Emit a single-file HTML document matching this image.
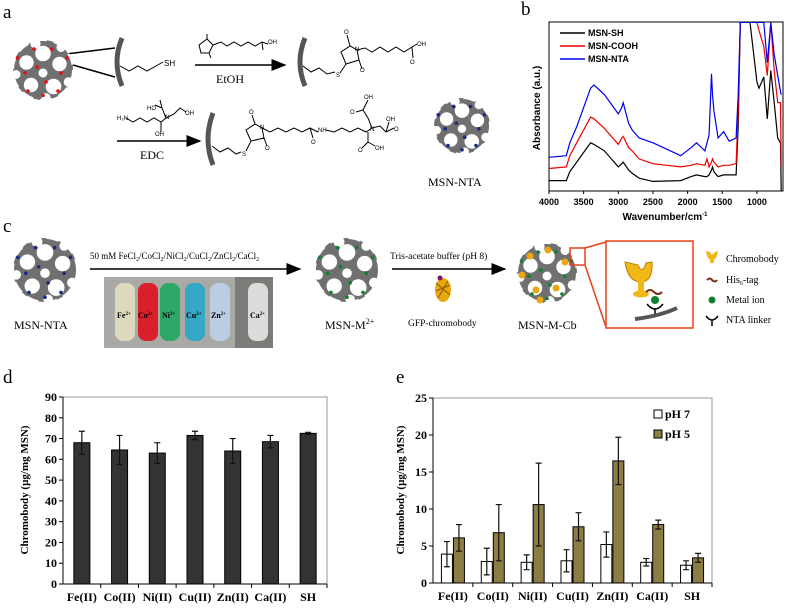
<!DOCTYPE html>
<html><head><meta charset="utf-8"><style>
html,body{margin:0;padding:0;background:#fff;}
svg{display:block;font-family:"Liberation Serif",serif;}
.ar{font-family:"Liberation Sans",sans-serif;}
.ch{font-family:"Liberation Sans",sans-serif;font-size:6px;}
</style></head><body>
<svg id="fig" width="787" height="608" viewBox="0 0 787 608">
<defs>
<marker id="ah" markerWidth="10" markerHeight="8" refX="9" refY="4" orient="auto"><path d="M0,0 L10,4 L0,8 z" fill="#000"/></marker>
<clipPath id="clipb"><rect x="549" y="22" width="234" height="169"/></clipPath>
</defs>
<text x="3" y="18" font-size="19">a</text>
<text x="521" y="15" font-size="19">b</text>
<text x="3" y="232" font-size="19">c</text>
<text x="3" y="383" font-size="19">d</text>
<text x="396" y="383" font-size="19">e</text>

<g id="schemeA" fill="none" stroke="#000" stroke-width="1">
<g><rect x="54" y="54" width="12" height="9" stroke-width="1.5"/><line x1="66" y1="54" x2="115" y2="48" stroke-width="1.5"/><line x1="66" y1="63" x2="115" y2="77" stroke-width="1.5"/></g>
<path d="M122,38 Q112,62 122,86" stroke="#555" stroke-width="5"/>
<path d="M120,66 L129,71 138,66 147,71 156,66 163,62"/>
<text x="164" y="66" class="ar" font-size="8" fill="#000" stroke="none">SH</text>
<line x1="195" y1="65" x2="285" y2="65" stroke-width="1.5" marker-end="url(#ah)"/>
<text x="216" y="83" font-size="12" fill="#000" stroke="none">EtOH</text>
<g>
<path d="M207,39 L213,45 209,53 201,53 199,45 z M207,39 L207,34 M209,53 L211,58 M213,45 L221,42 227,46 234,42 241,46 248,42 255,46 262,42 268,44 M262,42 L263,50"/>
<text x="268" y="44" class="ch" fill="#000" stroke="none">OH</text>
</g>
<path d="M305,38 Q295,62 305,86" stroke="#555" stroke-width="5"/>
<g>
<path d="M303,66 L311,72 319,68 327,74 335,72 M340,73 L346,64 L341,52 L350,46 L357,50 L359,60 L346,64 M350,46 L347,35 M359,60 L362,69 M357,50 L365,48 372,52 380,47 388,52 396,47 404,52 412,47 417,44 M412,47 L413,58"/>
<text x="336" y="77" class="ch" fill="#000" stroke="none">S</text>
<text x="344" y="34" class="ch" fill="#000" stroke="none">O</text>
<text x="360" y="72" class="ch" fill="#000" stroke="none">O</text>
<text x="355" y="51" class="ch" fill="#000" stroke="none">N</text>
<text x="417" y="46" class="ch" fill="#000" stroke="none">OH</text>
<text x="410" y="64" class="ch" fill="#000" stroke="none">O</text>
</g>
<line x1="117" y1="141" x2="200" y2="141" stroke-width="1.5" marker-end="url(#ah)"/>
<text x="140" y="159" font-size="12" fill="#000" stroke="none">EDC</text>
<g>
<path d="M126,118 L133,122 140,118 147,122 154,118 161,122 166,118 M166,118 L162,108 160,100 M166,118 L174,114 180,108 186,112 M162,108 L155,105 M161,122 L161,132"/>
<text x="117" y="120" class="ch" fill="#000" stroke="none">H₂N</text>
<text x="165" y="119" class="ch" fill="#000" stroke="none">N</text>
<text x="147" y="110" class="ch" fill="#000" stroke="none">HO</text>
<text x="185" y="115" class="ch" fill="#000" stroke="none">OH</text>
<text x="155" y="136" class="ch" fill="#000" stroke="none">OH</text>
</g>
<path d="M213,113 Q203,139 213,165" stroke="#555" stroke-width="5"/>
<g>
<path d="M212,146 L220,152 228,148 236,154 241,152 M246,151 L251,141 246,130 255,124 262,128 264,138 251,141 M255,124 L252,115 M264,138 L267,146 M262,128 L270,132 278,128 286,132 294,128 302,132 310,128 313,138 M310,128 L318,132 M326,130 L334,132 342,128 350,132 358,128 366,132 372,128 M372,128 L368,118 363,110 368,100 M363,110 L356,112 M372,128 L380,126 386,132 394,128 M386,132 L389,122 M368,132 L368,142 362,148 M368,142 L375,146"/>
<text x="242" y="156" class="ch" fill="#000" stroke="none">S</text>
<text x="249" y="114" class="ch" fill="#000" stroke="none">O</text>
<text x="265" y="150" class="ch" fill="#000" stroke="none">O</text>
<text x="260" y="129" class="ch" fill="#000" stroke="none">N</text>
<text x="311" y="144" class="ch" fill="#000" stroke="none">O</text>
<text x="318" y="132" class="ch" fill="#000" stroke="none">NH</text>
<text x="370" y="131" class="ch" fill="#000" stroke="none">N</text>
<text x="364" y="99" class="ch" fill="#000" stroke="none">OH</text>
<text x="350" y="114" class="ch" fill="#000" stroke="none">O</text>
<text x="386" y="121" class="ch" fill="#000" stroke="none">OH</text>
<text x="394" y="131" class="ch" fill="#000" stroke="none">O</text>
<text x="358" y="152" class="ch" fill="#000" stroke="none">O</text>
<text x="375" y="150" class="ch" fill="#000" stroke="none">OH</text>
</g>
<text x="428" y="186" font-size="12" fill="#000" stroke="none">MSN-NTA</text>
</g>

<g id="particles"></g>

<g>
<line x1="90" y1="269" x2="300" y2="269" stroke="#000" stroke-width="1.5" marker-end="url(#ah)"/>
<text x="90" y="259" font-size="9">50 mM FeCl<tspan font-size="6" dy="2">2</tspan><tspan dy="-2">/CoCl</tspan><tspan font-size="6" dy="2">2</tspan><tspan dy="-2">/NiCl</tspan><tspan font-size="6" dy="2">2</tspan><tspan dy="-2">/CuCl</tspan><tspan font-size="6" dy="2">2</tspan><tspan dy="-2">/ZnCl</tspan><tspan font-size="6" dy="2">2</tspan><tspan dy="-2">/CaCl</tspan><tspan font-size="6" dy="2">2</tspan></text>
<g>
<rect x="104" y="277" width="169" height="71" fill="#a9aaa5"/>
<rect x="235" y="277" width="38" height="71" fill="#7b7c78"/>
<rect x="115" y="283" width="20" height="58" rx="8" fill="#dcd9bd"/>
<rect x="138" y="283" width="20" height="58" rx="8" fill="#d81f2b"/>
<rect x="160" y="283" width="20" height="58" rx="8" fill="#2ea866"/>
<rect x="185" y="283" width="20" height="58" rx="8" fill="#35a9c4"/>
<rect x="210" y="283" width="20" height="58" rx="8" fill="#bccce2"/>
<rect x="248" y="283" width="20" height="58" rx="8" fill="#dcdcdc"/>
<text x="117" y="318" font-size="8" font-weight="bold">Fe<tspan font-size="5" dy="-3">2+</tspan></text>
<text x="138" y="318" font-size="8" font-weight="bold">Co<tspan font-size="5" dy="-3">2+</tspan></text>
<text x="162" y="318" font-size="8" font-weight="bold">Ni<tspan font-size="5" dy="-3">2+</tspan></text>
<text x="186" y="318" font-size="8" font-weight="bold">Cu<tspan font-size="5" dy="-3">2+</tspan></text>
<text x="211" y="318" font-size="8" font-weight="bold">Zn<tspan font-size="5" dy="-3">2+</tspan></text>
<text x="250" y="318" font-size="8" font-weight="bold">Ca<tspan font-size="5" dy="-3">2+</tspan></text>
</g>
<text x="14" y="329" font-size="12">MSN-NTA</text>
<text x="325" y="329" font-size="12">MSN-M<tspan font-size="8" dy="-5">2+</tspan></text>
<line x1="392" y1="269" x2="505" y2="269" stroke="#000" stroke-width="1.5" marker-end="url(#ah)"/>
<text x="390" y="259" font-size="9.5">Tris-acetate buffer (pH 8)</text>
<g><ellipse cx="443" cy="290" rx="8" ry="12" fill="#e8a810"/><path d="M436,283 L450,295 M436,291 L450,285 M438,298 L448,281" stroke="#8a5a00" stroke-width="1"/><circle cx="440" cy="278" r="2.5" fill="#801070"/></g>
<text x="408" y="326" font-size="9.5">GFP-chromobody</text>
<text x="518" y="329" font-size="12">MSN-M-Cb</text>
<rect x="570" y="248" width="15" height="17" fill="none" stroke="#e8401a" stroke-width="1.5"/>
<line x1="585" y1="248" x2="606" y2="242" stroke="#e8401a" stroke-width="1.5"/><line x1="585" y1="265" x2="606" y2="327" stroke="#e8401a" stroke-width="1.5"/>
<rect x="606" y="241" width="87" height="87" fill="#fff" stroke="#e8401a" stroke-width="1.5"/>
<g>
<path d="M625,262 Q628,282 641,282 Q653,282 652,262 L646,263 Q642,275 638,265 z" fill="#f0b818" stroke="#c08000"/>
<rect x="638" y="281" width="6" height="13" fill="#f0b818"/><ellipse cx="641" cy="294" rx="8" ry="3.5" fill="#f0b818"/>
<path d="M646,292 q4,-4 8,0 q4,4 8,0" fill="none" stroke="#7a3010" stroke-width="2"/>
<circle cx="655" cy="300" r="4" fill="#108030"/>
<path d="M647,304 q8,10 16,0 M655,309 v8" fill="none" stroke="#000" stroke-width="1.5"/>
<path d="M635,319 Q660,316 677,308" fill="none" stroke="#555" stroke-width="4"/>
</g>
<g>
<path d="M706,251 q1,9 6,9 q5,0 6,-9 l-3,1 q-3,5 -5,0 z" fill="#f0b818"/><rect x="710" y="259" width="4" height="4" fill="#f0b818"/>
<text x="726" y="262" font-size="10">Chromobody</text>
<path d="M707,280 q3,-3 5,0 q3,3 5,0" fill="none" stroke="#7a3010" stroke-width="2"/>
<text x="726" y="283" font-size="10">His<tspan font-size="6" dy="2">6</tspan><tspan dy="-2">-tag</tspan></text>
<circle cx="712" cy="300" r="3.5" fill="#108030"/>
<text x="726" y="303" font-size="10">Metal ion</text>
<path d="M706,316 q6,8 12,0 M712,320 v6" fill="none" stroke="#000" stroke-width="1.5"/>
<text x="726" y="323" font-size="10">NTA linker</text>
</g>
</g>

<g id="panelB">
<rect x="549" y="22" width="234" height="169" fill="none" stroke="#000" stroke-width="1"/>
<g id="bLines" clip-path="url(#clipb)"></g>
<g id="bTicks"></g>
<text class="ar" font-weight="bold" font-size="10" x="0" y="0" transform="translate(540,108) rotate(-90)" text-anchor="middle">Absorbance (a.u.)</text>
<text class="ar" font-weight="bold" font-size="10" x="665" y="220" text-anchor="middle">Wavenumber/cm<tspan font-size="6" dy="-4">-1</tspan></text>
<g>
<line x1="560" y1="33" x2="585" y2="33" stroke="#000" stroke-width="1.5"/><text class="ar" font-weight="bold" font-size="9" x="588" y="36">MSN-SH</text>
<line x1="560" y1="46" x2="585" y2="46" stroke="#e00" stroke-width="1.5"/><text class="ar" font-weight="bold" font-size="9" x="588" y="49">MSN-COOH</text>
<line x1="560" y1="59" x2="585" y2="59" stroke="#00e" stroke-width="1.5"/><text class="ar" font-weight="bold" font-size="9" x="588" y="62">MSN-NTA</text>
</g>
</g>

<g id="panelD"></g>
<text font-weight="bold" font-size="11" transform="translate(28,490) rotate(-90)" text-anchor="middle">Chromobody (µg/mg MSN)</text>
<g id="panelE"></g>
<text font-weight="bold" font-size="11" transform="translate(404,490) rotate(-90)" text-anchor="middle">Chromobody (µg/mg MSN)</text>
</svg>
<script>
const irWavenumbers = [4000,3750,3700,3600,3400,3350,3200,3000,2950,2930,2850,2800,2700,2500,2100,1950,1870,1750,1720,1690,1655,1640,1620,1560,1480,1400,1300,1270,1240,1100,1000,970,900,850,800,750,700,660,650];
const irSH   = [0.065,0.065,0.12,0.18,0.30,0.29,0.25,0.15,0.17,0.18,0.13,0.11,0.08,0.06,0.065,0.09,0.10,0.09,0.09,0.10,0.13,0.15,0.12,0.09,0.10,0.10,0.10,0.40,1.05,1.05,0.68,0.64,0.71,0.45,0.75,0.55,0.33,0.30,0.0];
const irCOOH = [0.14,0.15,0.22,0.30,0.46,0.45,0.39,0.29,0.33,0.34,0.27,0.25,0.20,0.17,0.15,0.16,0.17,0.16,0.20,0.15,0.18,0.20,0.18,0.15,0.16,0.16,0.17,0.50,1.05,1.05,1.05,1.0,0.9,0.72,1.05,0.75,0.55,0.55,0.15];
const irNTA  = [0.21,0.22,0.30,0.40,0.64,0.66,0.60,0.48,0.52,0.55,0.42,0.38,0.33,0.30,0.22,0.27,0.30,0.25,0.30,0.35,0.73,0.60,0.50,0.33,0.37,0.31,0.33,0.60,1.05,1.05,1.05,1.05,1.05,0.80,1.05,0.85,0.72,0.62,0.60];
const irTicks = [4000,3500,3000,2500,2000,1500,1000];
const dCategories = ["Fe(II)","Co(II)","Ni(II)","Cu(II)","Zn(II)","Ca(II)","SH"];
const dValues = [68,64.5,63,71.5,64,68.5,72.5];
const dErrors = [5.5,7,5,2,6,3,0.5];
const dTicks = [0,10,20,30,40,50,60,70,80,90];
const eCategories = ["Fe(II)","Co(II)","Ni(II)","Cu(II)","Zn(II)","Ca(II)","SH"];
const ePH7 = [3.9,2.9,2.8,3.0,5.2,2.8,2.4];
const ePH7Err = [1.7,1.8,1.0,1.5,1.7,0.5,0.6];
const ePH5 = [6.1,6.8,10.6,7.6,16.5,7.9,3.4];
const ePH5Err = [1.8,3.8,5.6,1.9,3.2,0.6,0.6];
const eTicks = [0,5,10,15,20,25];

const NS="http://www.w3.org/2000/svg";
function mk(tag,attrs,parent,text){const e=document.createElementNS(NS,tag);for(const k in attrs)e.setAttribute(k,attrs[k]);if(text!==undefined)e.textContent=text;parent.appendChild(e);return e;}

const pg=document.getElementById('particles');
function particle(cx,cy,r,dot,name){
  const g=mk('g',{},pg);
  
  
  mk('circle',{cx:cx,cy:cy,r:r,fill:'#707070'},g);
  const holes=[[0.0,-0.55,0.26],[0.55,-0.2,0.24],[0.35,0.55,0.26],[-0.4,0.5,0.24],[-0.55,-0.25,0.24],[0.0,0.1,0.15],[-0.25,-0.88,0.17],[0.85,0.4,0.16],[-0.9,0.15,0.15],[0.1,0.92,0.15],[0.6,-0.75,0.15]];
  holes.forEach(h=>mk('circle',{cx:cx+h[0]*r,cy:cy+h[1]*r,r:h[2]*r,fill:'#fff'},g));
  mk('circle',{cx:cx,cy:cy,r:r,fill:'none',stroke:'#fff','stroke-width':2,'stroke-dasharray':'12 7'},g);
  const dots=[[-0.3,-0.7],[0.3,-0.7],[0.6,0.1],[-0.6,0.1],[0.1,0.4],[-0.2,-0.1],[0.5,0.7],[-0.5,0.7],[0.8,-0.4],[-0.85,-0.4],[0,0.85]];
  if(dot)dots.forEach(d=>mk('circle',{cx:cx+d[0]*r,cy:cy+d[1]*r,r:1.8,fill:dot},g));
}
particle(43,70,30,'#e01010','msn-sh-particle');
particle(462,126,28,'#1a2a80','msn-nta-particle-a');
particle(45,270,32,'#1a2a80','msn-nta-particle-c');
particle(347,270,32,'#108030','msn-m-particle');
particle(547,273,30,'#108030','msn-m-cb-particle');
[[530,256],[548,250],[565,262],[536,290],[522,275],[556,288],[540,300]].forEach(p=>{const c=mk('circle',{cx:p[0],cy:p[1],r:3.5,fill:'#e8a810'},pg);});

const bx=w=>549+(4000-w)*0.0693, by=a=>191-a*169*0.95;
const bL=document.getElementById('bLines'), bT=document.getElementById('bTicks');
[[irSH,'#000','ir-line-msn-sh'],[irCOOH,'#e00','ir-line-msn-cooh'],[irNTA,'#00e','ir-line-msn-nta']].forEach(s=>{
  const d=irWavenumbers.map((w,i)=>(i?'L':'M')+bx(w).toFixed(1)+','+by(s[0][i]).toFixed(1)).join(' ');
  const p=mk('path',{d:d,fill:'none',stroke:s[1],'stroke-width':1.2},bL);
  
  
});
irTicks.forEach(t=>{mk('line',{x1:bx(t),x2:bx(t),y1:191,y2:194,stroke:'#000'},bT);
  const tx=mk('text',{x:bx(t),y:205,'font-size':9,'text-anchor':'middle','class':'ar','font-weight':'bold'},bT,String(t));
  
  });

function barChart(g,opts){
  const {x0,x1,y0,y1,max,ticks,cats,prefix}=opts;
  const ys=v=>y0-(v/max)*(y0-y1);
  const band=(x1-x0)/cats.length;
  mk('rect',{x:x0,y:y1,width:x1-x0,height:y0-y1,fill:'none',stroke:'#999','stroke-width':1},g);
  mk('line',{x1:x0,x2:x0,y1:y1,y2:y0,stroke:'#000'},g);
  mk('line',{x1:x0,x2:x1,y1:y0,y2:y0,stroke:'#000'},g);
  ticks.forEach(t=>{mk('line',{x1:x0-4,x2:x0,y1:ys(t),y2:ys(t),stroke:'#000'},g);
    const tl=mk('text',{x:x0-6,y:ys(t)+4,'font-size':12,'font-weight':'bold','text-anchor':'end'},g,String(t));
    
    });
  cats.forEach((c,i)=>{mk('line',{x1:x0+band*(i+1),x2:x0+band*(i+1),y1:y0,y2:y0+4,stroke:'#000'},g);
    const cl=mk('text',{x:x0+band*(i+0.5),y:y0+17,'font-size':12,'font-weight':'bold','text-anchor':'middle'},g,c);
    
    });
  return {ys,band};
}
function errBar(g,x,ys,v,e){
  mk('path',{d:`M${x},${ys(v-e)}V${ys(v+e)}M${x-3},${ys(v-e)}h6M${x-3},${ys(v+e)}h6`,stroke:'#111','stroke-width':1.2,fill:'none'},g);
}
const gD=document.getElementById('panelD');
const D=barChart(gD,{x0:63,x1:327,y0:584,y1:397,max:90,ticks:dTicks,cats:dCategories,prefix:'d'});
dValues.forEach((v,i)=>{const cx=63+D.band*(i+0.5);
  const r=mk('rect',{x:cx-8,y:D.ys(v),width:16,height:584-D.ys(v),fill:'#333',stroke:'#000'},gD);
  
  
  errBar(gD,cx,D.ys,v,dErrors[i]);});
const gE=document.getElementById('panelE');
const E=barChart(gE,{x0:433,x1:712,y0:583,y1:398,max:25,ticks:eTicks,cats:eCategories,prefix:'e'});
eCategories.forEach((c,i)=>{const cx=433+E.band*(i+0.5);
  const a=mk('rect',{x:cx-11.5,y:E.ys(ePH7[i]),width:11,height:583-E.ys(ePH7[i]),fill:'#fff',stroke:'#000'},gE);
  
  
  const b=mk('rect',{x:cx+0.5,y:E.ys(ePH5[i]),width:11,height:583-E.ys(ePH5[i]),fill:'#8c7d45',stroke:'#000'},gE);
  
  
  errBar(gE,cx-6,E.ys,ePH7[i],ePH7Err[i]);
  errBar(gE,cx+6,E.ys,ePH5[i],ePH5Err[i]);});
const lg=mk('g',{},gE);


mk('rect',{x:654,y:410,width:8,height:8,fill:'#fff',stroke:'#000'},lg);
mk('text',{x:665,y:418,'font-size':12,'font-weight':'bold'},lg,'pH 7');
mk('rect',{x:654,y:430,width:8,height:8,fill:'#8c7d45',stroke:'#000'},lg);
mk('text',{x:665,y:438,'font-size':12,'font-weight':'bold'},lg,'pH 5');
</script>
</body></html>
